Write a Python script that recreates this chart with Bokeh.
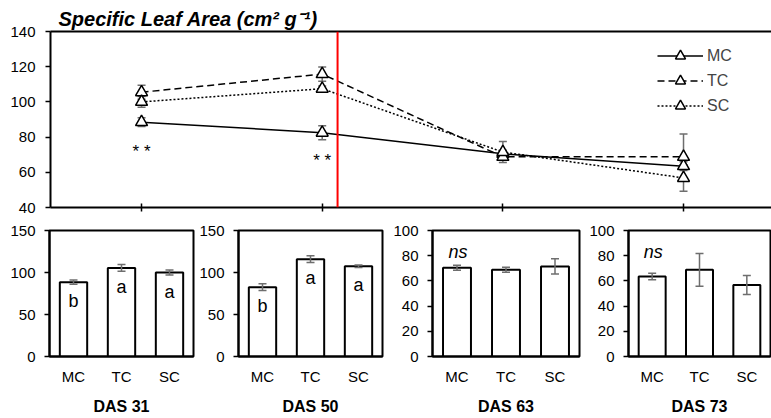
from bokeh.plotting import figure
from bokeh.layouts import column, row
from bokeh.models import (ColumnDataSource, Range1d, FactorRange, Whisker, TeeHead, Span,
                          Legend, LegendItem, LinearAxis, FixedTicker)
from bokeh.core.properties import value
from bokeh.embed import file_html
from bokeh.resources import INLINE

# ---------------- data ----------------
days = ["DAS 31", "DAS 50", "DAS 63", "DAS 73"]
treatments = ["MC", "TC", "SC"]
mc_mean = [88.5, 82.5, 70.5, 63.5]
tc_mean = [105.5, 115.8, 68.8, 68.8]
sc_mean = [100.0, 107.5, 71.5, 56.8]
mc_se = [2.5, 4.0, 2.0, 2.5]
tc_se = [4.0, 4.0, 2.0, 13.0]
sc_se = [3.0, 1.5, 6.0, 7.5]
sig_top = ["* *", "* *", "", ""]
letters = [["b", "a", "a"], ["b", "a", "a"], ["", "", ""], ["", "", ""]]
ns_labels = ["", "", "ns", "ns"]
panel_ymax = [150, 150, 100, 100]
panel_ticks = [[0, 50, 100, 150], [0, 50, 100, 150],
               [0, 20, 40, 60, 80, 100], [0, 20, 40, 60, 80, 100]]
top_ticks = [40, 60, 80, 100, 120, 140]
event_position = 1.585  # red marker line between DAS 50 and DAS 63
title_text = "Specific Leaf Area (cm\u00b2 g\u207b\u00b9)"

FONT = "Liberation Sans"
ERR = "#6e6e6e"

# ---------------- top line chart ----------------
xs = [i + 0.5 for i in range(len(days))]
top = figure(width=771, height=218, x_range=Range1d(-0.004, 3.987), y_range=Range1d(40, 140),
             output_backend="svg", toolbar_location=None,
             min_border_left=50, min_border_right=0, min_border_top=31, min_border_bottom=11)
top.outline_line_color = None
top.grid.visible = False

top.title.text = title_text
top.title.text_font = FONT
top.title.text_font_size = "20px"
top.title.text_font_style = "bold italic"
top.title.text_color = "black"
top.title.align = "left"
top.title.offset = 8
top.title.standoff = 4

ya = top.yaxis[0]
ya.ticker = FixedTicker(ticks=top_ticks)
ya.major_label_text_font = FONT
ya.major_label_text_font_size = "15px"
ya.major_label_text_color = "black"
ya.axis_line_width = 2
ya.major_tick_out = 5
ya.major_tick_in = 0
ya.major_tick_line_width = 1.5
ya.minor_tick_line_color = None
ya.major_label_standoff = 10

xa = top.xaxis[0]
xa.ticker = FixedTicker(ticks=xs)
xa.major_label_text_font_size = "1px"
xa.major_label_text_color = None
xa.major_label_standoff = 0
xa.axis_line_width = 2
xa.major_tick_in = 4
xa.major_tick_out = 4
xa.major_tick_line_width = 1.5
xa.minor_tick_line_color = None

topax = LinearAxis(ticker=FixedTicker(ticks=[]), major_label_text_font_size="1px",
                   major_label_text_color=None, major_label_standoff=0,
                   major_tick_in=0, major_tick_out=0, minor_tick_line_color=None,
                   axis_line_width=2)
top.add_layout(topax, "above")

series = [("MC", mc_mean, mc_se, "solid"),
          ("TC", tc_mean, tc_se, "7 4"),
          ("SC", sc_mean, sc_se, "2 2")]
items = []
for name, mean, se, dash in series:
    src = ColumnDataSource(dict(x=xs, y=mean,
                                upper=[m + s for m, s in zip(mean, se)],
                                lower=[m - s for m, s in zip(mean, se)]))
    ln = top.line("x", "y", source=src, line_color="black", line_width=1.5, line_dash=dash)
    w = Whisker(base="x", upper="upper", lower="lower", source=src, level="underlay",
                line_color=ERR, line_width=1.5,
                upper_head=TeeHead(size=8, line_color=ERR, line_width=1.5),
                lower_head=TeeHead(size=8, line_color=ERR, line_width=1.5))
    top.add_layout(w)
    sc = top.scatter("x", "y", source=src, marker="triangle", size=12, fill_color="white",
                     line_color="black", line_width=1.5)
    items.append(LegendItem(label=name, renderers=[ln, sc]))

top.add_layout(Span(location=event_position, dimension="height", line_color="red", line_width=2))

top.text(x=xs, y=[m * 0.81 for m in mc_mean], text=sig_top, text_font=value(FONT),
         text_font_size="17px", text_align="center", text_baseline="middle", text_color="black")

legend = Legend(items=items, location=(607, 89), glyph_width=46, glyph_height=25,
                label_height=25, spacing=0, padding=0, margin=0, label_standoff=4,
                label_text_font=FONT, label_text_font_size="16px",
                border_line_color=None, background_fill_alpha=0)
top.add_layout(legend)

# ---------------- bar panels ----------------
widths = [195, 189, 198, 189]
lefts = [49, 43, 48, 46]
rights = [2, 2, 3, 1]
panels = []
for i, day in enumerate(days):
    means = [mc_mean[i], tc_mean[i], sc_mean[i]]
    ses = [mc_se[i], tc_se[i], sc_se[i]]
    p = figure(width=widths[i], height=200, x_range=FactorRange(*treatments),
               y_range=Range1d(0, panel_ymax[i]), output_backend="svg", toolbar_location=None,
               min_border_left=lefts[i], min_border_right=rights[i],
               min_border_top=12, min_border_bottom=62)
    p.grid.visible = False
    p.outline_line_color = "black"
    p.outline_line_width = 2
    src = ColumnDataSource(dict(x=treatments, top=means,
                                upper=[m + s for m, s in zip(means, ses)],
                                lower=[m - s for m, s in zip(means, ses)],
                                letter=letters[i]))
    p.vbar(x="x", top="top", width=0.57, source=src, fill_color="white",
           line_color="black", line_width=2)
    p.add_layout(Whisker(base="x", upper="upper", lower="lower", source=src, level="annotation",
                         line_color=ERR, line_width=1.5,
                         upper_head=TeeHead(size=8, line_color=ERR, line_width=1.5),
                         lower_head=TeeHead(size=8, line_color=ERR, line_width=1.5)))
    p.text(x="x", y="top", text="letter", source=src, text_align="center",
           text_baseline="top", y_offset=9, text_font=value(FONT), text_font_size="18px",
           text_color="black")
    if ns_labels[i]:
        p.text(x=[treatments[0]], y=[panel_ymax[i] * 0.83], text=[ns_labels[i]],
               text_align="center", text_baseline="alphabetic", x_offset=1,
               text_font=value(FONT), text_font_size="18px", text_font_style="italic",
               text_color="black")
    yb = p.yaxis[0]
    yb.ticker = FixedTicker(ticks=panel_ticks[i])
    yb.major_label_text_font = FONT
    yb.major_label_text_font_size = "15px"
    yb.major_label_text_color = "black"
    yb.axis_line_width = 2
    yb.major_tick_out = 5
    yb.major_tick_in = 0
    yb.major_tick_line_width = 1.5
    yb.minor_tick_line_color = None
    yb.major_label_standoff = 9
    xb = p.xaxis[0]
    xb.axis_line_width = 2
    xb.major_tick_out = 0
    xb.major_tick_in = 0
    xb.major_label_standoff = 11
    xb.major_label_text_font = FONT
    xb.major_label_text_font_size = "15px"
    xb.major_label_text_color = "black"
    xb.axis_label = day
    xb.axis_label_text_font = FONT
    xb.axis_label_text_font_size = "16px"
    xb.axis_label_text_font_style = "bold"
    xb.axis_label_text_color = "black"
    xb.axis_label_standoff = 10
    panels.append(p)

layout = column(top, row(*panels, spacing=0), spacing=0)
open("out.html", "w").write(file_html(layout, INLINE))
